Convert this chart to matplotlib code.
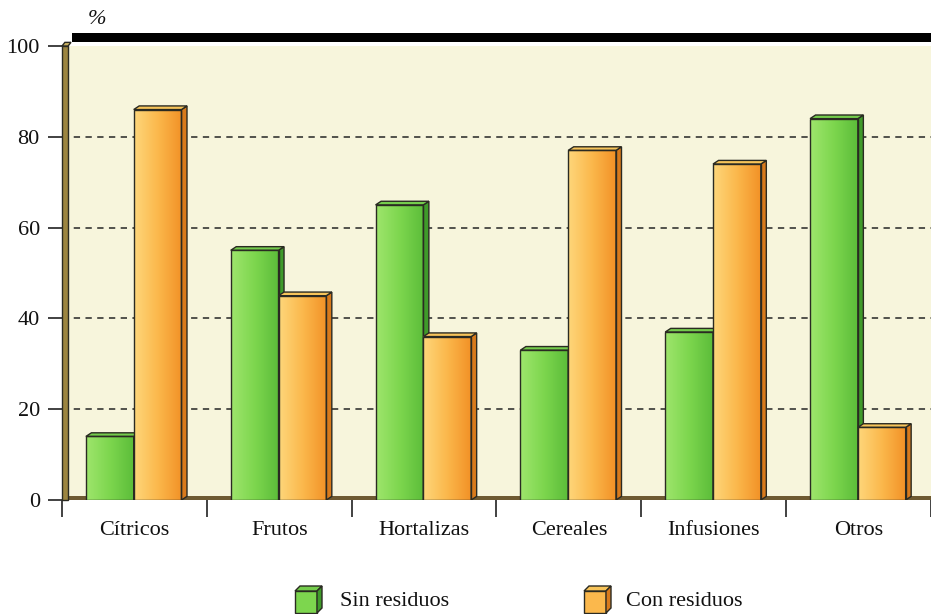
import numpy as np
import matplotlib
matplotlib.use("Agg")
import matplotlib.pyplot as plt
from matplotlib.patches import Polygon, Rectangle
from matplotlib.colors import LinearSegmentedColormap

categories = ["Cítricos", "Frutos", "Hortalizas", "Cereales", "Infusiones", "Otros"]
sin_residuos = [14, 55, 65, 33, 37, 84]
con_residuos = [86, 45, 36, 77, 74, 16]
y_ticks = [0, 20, 40, 60, 80, 100]
grid_levels = [20, 40, 60, 80]
series_labels = ["Sin residuos", "Con residuos"]

plt.rcParams["font.family"] = ["Liberation Serif", "DejaVu Serif"]

W, H = 931, 614
fig = plt.figure(figsize=(W / 100, H / 100), dpi=100)
fig.patch.set_facecolor("white")
ax = fig.add_axes([62 / W, 1 - 500 / H, 869 / W, 454 / H])
ax.set_facecolor("#f7f5dc")
for s in ax.spines.values():
    s.set_visible(False)

EDGE = "#2a2a22"
TEXT = "#111111"
styles = {
    "green": dict(grad=["#9ee56c", "#7dd64e", "#5cbd3a"], side="#3f9a2a", top="#74cc4c"),
    "orange": dict(grad=["#fed67a", "#fbb84c", "#f29227"], side="#d87a1c", top="#f7c45a"),
}

width = 0.33
dx, dy = 0.038, 0.8  # extrusion depth of the 3-D boxes in data units
xs = np.arange(len(categories))


def draw_boxes(values, offset, style, z):
    cmap = LinearSegmentedColormap.from_list("g", style["grad"])
    grad = np.linspace(0, 1, 64).reshape(1, -1)
    bars = ax.bar(xs + offset, values, width=width, align="edge",
                  color="none", edgecolor=EDGE, linewidth=1.0, zorder=z + 0.2)
    for b in bars:
        x0, h, w = b.get_x(), b.get_height(), b.get_width()
        ax.imshow(grad, cmap=cmap, extent=[x0, x0 + w, 0, h], aspect="auto",
                  interpolation="bilinear", zorder=z)
        ax.add_patch(Polygon([(x0 + w, 0), (x0 + w + dx, dy), (x0 + w + dx, h + dy), (x0 + w, h)],
                             closed=True, facecolor=style["side"], edgecolor=EDGE,
                             linewidth=1.0, zorder=z + 0.1))
        ax.add_patch(Polygon([(x0, h), (x0 + dx, h + dy), (x0 + w + dx, h + dy), (x0 + w, h)],
                             closed=True, facecolor=style["top"], edgecolor=EDGE,
                             linewidth=1.0, zorder=z + 0.1))


# dashed guide lines
for g in grid_levels:
    ax.axhline(g, color="#444440", linewidth=1.3, linestyle=(0, (3.5, 3)), zorder=1)

# floor strip and left wall
ax.add_patch(Rectangle((0, 0), 6, 0.8, facecolor="#6e5a32", edgecolor="none", zorder=2))
ax.add_patch(Rectangle((0, 0), 0.042, 100, facecolor="#9c8540", edgecolor=EDGE,
                       linewidth=1.0, zorder=2.5, clip_on=False))
ax.add_patch(Polygon([(0, 100), (0.02, 100.8), (0.062, 100.8), (0.042, 100)], closed=True,
                     facecolor="#c8b060", edgecolor=EDGE, linewidth=1.0, zorder=2.5, clip_on=False))

draw_boxes(sin_residuos, 0.165, styles["green"], 3)
draw_boxes(con_residuos, 0.495, styles["orange"], 4)

# black band over the top of the panel
ax.add_patch(Rectangle((0.07, 100.9), 6.0, 2.0, facecolor="black", edgecolor="none",
                       zorder=5, clip_on=False))

ax.set_xlim(0, 6)
ax.set_ylim(0, 100)

ax.set_yticks(y_ticks)
ax.set_yticklabels([str(v) for v in y_ticks], fontsize=16, color=TEXT)
ax.tick_params(axis="y", length=10, width=1.3, color="#333333", pad=6)

ax.set_xticks(np.arange(0, 7))
ax.set_xticklabels([])
ax.tick_params(axis="x", which="major", length=12, width=1.3, color="#333333")
ax.set_xticks(xs + 0.5, minor=True)
ax.set_xticklabels(categories, minor=True, fontsize=16, color=TEXT)
ax.tick_params(axis="x", which="minor", length=0, pad=15)

fig.text(97 / W, 1 - 20 / H, "%", fontsize=16, style="italic", ha="center", va="center", color=TEXT)


# legend cubes drawn in figure pixel coordinates
def fig_xy(px, py):
    return (px / W, 1 - py / H)


def cube(px, py, style):
    s, d = 22, 5
    front = [fig_xy(px, py + s), fig_xy(px + s, py + s), fig_xy(px + s, py), fig_xy(px, py)]
    top = [fig_xy(px, py), fig_xy(px + d, py - d), fig_xy(px + s + d, py - d), fig_xy(px + s, py)]
    side = [fig_xy(px + s, py), fig_xy(px + s + d, py - d), fig_xy(px + s + d, py + s - d),
            fig_xy(px + s, py + s)]
    for pts, fc in [(front, style["grad"][1]), (top, style["top"]), (side, style["side"])]:
        fig.add_artist(Polygon(pts, closed=True, facecolor=fc, edgecolor=EDGE,
                               linewidth=1.0, transform=fig.transFigure))


cube(295, 591, styles["green"])
cube(584, 591, styles["orange"])
fig.text(340 / W, 1 - 601 / H, series_labels[0], fontsize=16, ha="left", va="center", color=TEXT)
fig.text(626 / W, 1 - 601 / H, series_labels[1], fontsize=16, ha="left", va="center", color=TEXT)

fig.savefig("out.png", dpi=100)
